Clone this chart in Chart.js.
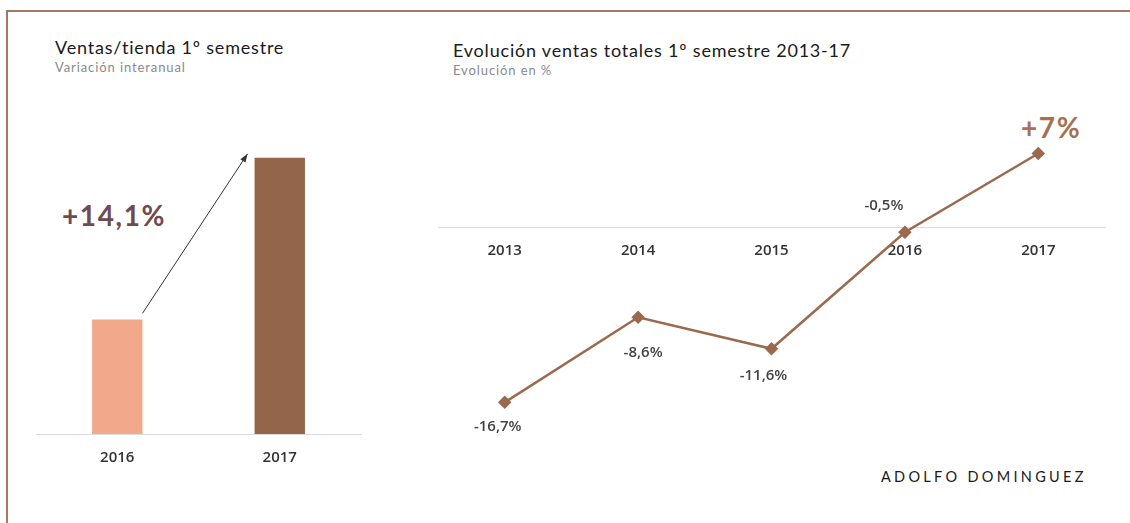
<!DOCTYPE html>
<html lang="es">
<head>
    <meta charset="UTF-8">
    <title>Adolfo Dominguez - ventas 1º semestre</title>
    <style>
        body {
            margin: 0;
            width: 1130px;
            height: 523px;
            background: #fff;
            font-family: Lato, "DejaVu Sans", sans-serif;
            overflow: hidden;
            position: relative;
        }

        .frame {
            position: absolute;
            left: 6px;
            top: 10px;
            width: 1130px;
            height: 520px;
            border-top: 2px solid #a07a64;
            border-left: 2px solid #a07a64;
        }

        .title {
            position: absolute;
            font-size: 18px;
            letter-spacing: 0.8px;
            color: #1a1a1a;
            white-space: nowrap;
        }

        .subtitle {
            position: absolute;
            font-size: 13px;
            letter-spacing: 0.9px;
            color: #8a8a8a;
            white-space: nowrap;
        }

        .big {
            position: absolute;
            font-size: 28px;
            letter-spacing: 1.6px;
            font-weight: bold;
            white-space: nowrap;
        }

        .brand {
            position: absolute;
            left: 881px;
            top: 468px;
            font-size: 14.5px;
            letter-spacing: 3.3px;
            color: #1a1a1a;
        }

        canvas { position: absolute; }
    </style>
</head>
<body>

<div class="frame"></div>

<div class="title" style="left:55px; top:36px;">Ventas/tienda 1º semestre</div>
<div class="subtitle" style="left:55px; top:59px;">Variación interanual</div>
<div class="big" style="left:62px; top:198px; color:#6e4a52;">+14,1%</div>

<div class="title" style="left:453px; top:39px;">Evolución ventas totales 1º semestre 2013-17</div>
<div class="subtitle" style="left:453px; top:62px;">Evolución en %</div>
<div class="big" style="left:1021px; top:110px; color:#a8704e;">+7%</div>

<div class="brand">ADOLFO DOMINGUEZ</div>

<div style="position:absolute; left:20px; top:100px; width:360px; height:380px;">
    <canvas id="storeChart"></canvas>
</div>
<div style="position:absolute; left:430px; top:90px; width:690px; height:380px;">
    <canvas id="salesChart"></canvas>
</div>

<script src="https://cdn.jsdelivr.net/npm/chart.js"></script>
<script>
    // Ventas/tienda (index, 2016 = 100)
    const storeYears = ['2016', '2017'];
    const storeValues = [100, 114.1];
    const storeColors = ['#f2a88a', '#93664c'];

    // Evolucion ventas totales (%)
    const salesYears = ['2013', '2014', '2015', '2016', '2017'];
    const salesValues = [-16.7, -8.6, -11.6, -0.5, 7];
    const salesLabels = ['-16,7%', '-8,6%', '-11,6%', '-0,5%', ''];

    const tickFont = { family: '"Open Sans", Lato, sans-serif', size: 15, weight: '600' };

    // arrow between the two bars
    const arrowPlugin = {
        id: 'arrow',
        afterDatasetsDraw(chart) {
            const bars = chart.getDatasetMeta(0).data;
            const a = bars[0], b = bars[1];
            const x1 = a.x + a.width / 2, y1 = a.y - 6;
            const x2 = b.x - b.width / 2 - 7, y2 = b.y - 4;
            const ctx = chart.ctx;
            const ang = Math.atan2(y2 - y1, x2 - x1);
            ctx.save();
            ctx.strokeStyle = '#333';
            ctx.fillStyle = '#333';
            ctx.lineWidth = 1;
            ctx.beginPath();
            ctx.moveTo(x1, y1);
            ctx.lineTo(x2, y2);
            ctx.stroke();
            ctx.beginPath();
            ctx.moveTo(x2, y2);
            ctx.lineTo(x2 - 9 * Math.cos(ang - 0.35), y2 - 9 * Math.sin(ang - 0.35));
            ctx.lineTo(x2 - 9 * Math.cos(ang + 0.35), y2 - 9 * Math.sin(ang + 0.35));
            ctx.closePath();
            ctx.fill();
            ctx.restore();
        }
    };

    // value labels for the line points (offsets from each point)
    const labelOffsets = [[-7, 24], [5, 35], [-8, 27], [-21, -27], [0, 0]];
    const pointLabels = {
        id: 'pointLabels',
        afterDatasetsDraw(chart) {
            const pts = chart.getDatasetMeta(0).data;
            const ctx = chart.ctx;
            ctx.save();
            ctx.font = '600 15px "Open Sans", Lato, sans-serif';
            ctx.fillStyle = '#444';
            ctx.textAlign = 'center';
            ctx.textBaseline = 'middle';
            pts.forEach((p, i) => {
                const txt = salesLabels[i];
                if (!txt) return;
                ctx.fillText(txt, p.x + labelOffsets[i][0], p.y + labelOffsets[i][1]);
            });
            ctx.restore();
        }
    };

    new Chart(document.getElementById('storeChart'), {
        type: 'bar',
        data: {
            labels: storeYears,
            datasets: [{
                data: storeValues,
                backgroundColor: storeColors,
                barPercentage: 0.31,
                categoryPercentage: 1
            }]
        },
        options: {
            responsive: true,
            maintainAspectRatio: false,
            animation: false,
            layout: { padding: { left: 16, right: 19, top: 36, bottom: 46 } },
            plugins: { legend: { display: false }, tooltip: { enabled: false } },
            scales: {
                x: {
                    position: { y: 90 },
                    grid: { display: false, drawTicks: false },
                    border: { display: true, color: '#dcdcdc', width: 1 },
                    ticks: { color: '#333', font: tickFont, padding: 15 }
                },
                y: { display: false, min: 90, max: 116 }
            }
        },
        plugins: [arrowPlugin]
    });

    new Chart(document.getElementById('salesChart'), {
        type: 'line',
        data: {
            labels: salesYears,
            datasets: [{
                data: salesValues,
                borderColor: '#9b6a4e',
                backgroundColor: '#9b6a4e',
                borderWidth: 2.5,
                pointStyle: 'rectRot',
                pointRadius: 5,
                tension: 0
            }]
        },
        options: {
            responsive: true,
            maintainAspectRatio: false,
            animation: false,
            layout: { padding: { left: 8, right: 15, top: 32, bottom: 33 } },
            plugins: { legend: { display: false }, tooltip: { enabled: false } },
            scales: {
                x: {
                    offset: true,
                    position: { y: 0 },
                    grid: { display: false, drawTicks: false },
                    border: { display: true, color: '#dcdcdc', width: 1 },
                    ticks: { color: '#333', font: tickFont, padding: 15 }
                },
                y: { display: false, min: -20, max: 10 }
            }
        },
        plugins: [pointLabels]
    });
</script>
</body>
</html>
